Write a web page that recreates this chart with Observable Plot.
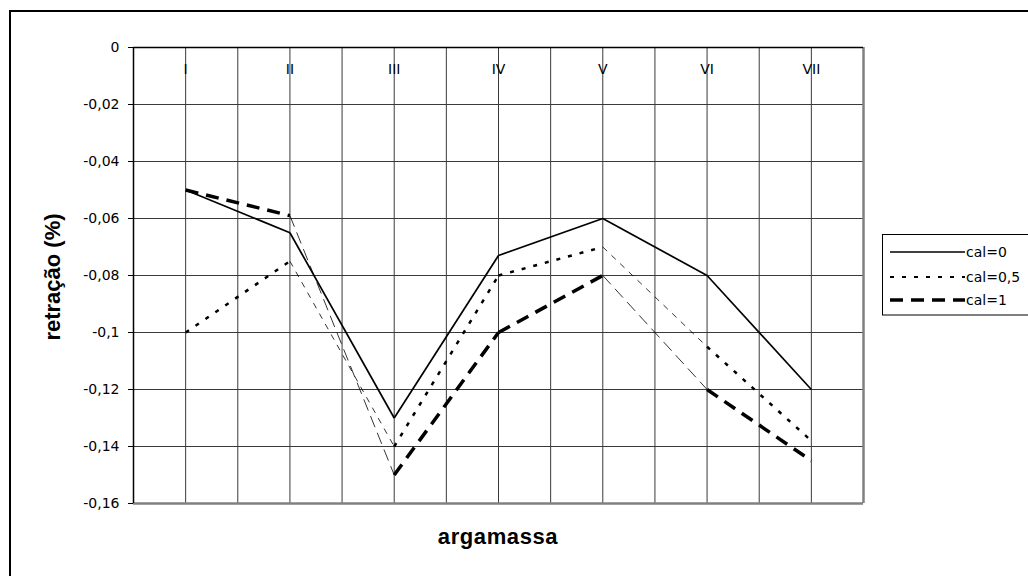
<!DOCTYPE html>
<html><head><meta charset="utf-8">
<script src="https://cdn.jsdelivr.net/npm/d3@7"></script>
<script src="https://cdn.jsdelivr.net/npm/@observablehq/plot@0.6"></script>
<style>body{margin:0;background:#fff}svg{display:block}</style>
</head><body><div id="chart"></div>
<script>
const categories = ["I", "II", "III", "IV", "V", "VI", "VII"];
const seriesNames = ["cal=0", "cal=0,5", "cal=1"];
const cal0  = [-0.05, -0.065, -0.13, -0.073, -0.06, -0.08, -0.12];
const cal05 = [-0.1, -0.075, -0.14, -0.08, -0.07, -0.105, -0.138];
const cal1  = [-0.05, -0.059, -0.15, -0.1, -0.08, -0.12, -0.145];
const yTicks = [0, -0.02, -0.04, -0.06, -0.08, -0.1, -0.12, -0.14, -0.16];
const yTickLabels = ["0", "-0,02", "-0,04", "-0,06", "-0,08", "-0,1", "-0,12", "-0,14", "-0,16"];
const xTitle = "argamassa";
const yTitle = "retração (%)";

const seriesValues = [cal0, cal05, cal1];
const styles = {
  "cal=0":   {thick: {w: 1.7, dash: null}, thin: {w: 1.7, dash: null}},
  "cal=0,5": {thick: {w: 2.5, dash: "4,8"}, thin: {w: 0.8, dash: "6,6"}},
  "cal=1":   {thick: {w: 3.5, dash: "13,8"}, thin: {w: 0.8, dash: "12,6"}}
};
const thinSegments = [1, 4];

const segs = [];
seriesNames.forEach((s, k) => {
  const v = seriesValues[k];
  for (let i = 0; i < v.length - 1; i++) {
    segs.push({series: s, x1: i + 1, y1: v[i], x2: i + 2, y2: v[i + 1], thin: thinSegments.includes(i)});
  }
});

const lineMarks = [];
seriesNames.forEach(s => {
  ["thick", "thin"].forEach(t => {
    const st = styles[s][t];
    lineMarks.push(Plot.link(segs.filter(d => d.series === s && (t === "thin") === d.thin), {
      x1: "x1", y1: "y1", x2: "x2", y2: "y2",
      stroke: "black", strokeWidth: st.w, strokeDasharray: st.dash, strokeLinecap: "butt"
    }));
  });
});

const halfSteps = d3.range(0.5, 7.6, 0.5);
const regFont = "'DejaVu Sans', sans-serif";

const svg = Plot.plot({
  width: 1028, height: 576,
  marginLeft: 133, marginRight: 165, marginTop: 47, marginBottom: 73,
  style: {fontFamily: regFont, fontSize: "14px", color: "black", background: "white"},
  x: {domain: [0.5, 7.5], axis: null},
  y: {domain: [-0.16, 0]},
  marks: [
    Plot.ruleY(yTicks, {stroke: "#3a3a3a", strokeWidth: 1}),
    Plot.ruleX(halfSteps, {stroke: "#3a3a3a", strokeWidth: 1}),
    Plot.ruleX([7.5], {stroke: "#808080", strokeWidth: 2.5}),
    Plot.ruleY([-0.16], {stroke: "#808080", strokeWidth: 2.5}),
    Plot.ruleY([0], {stroke: "black", strokeWidth: 1.5}),
    Plot.ruleX([0.5], {stroke: "black", strokeWidth: 1.5}),
    Plot.axisY(yTicks, {tickSize: 5, tickPadding: 9, tickFormat: d => yTickLabels[yTicks.indexOf(d)], label: null, fontSize: 14, stroke: "black"}),
    Plot.text(categories, {x: (d, i) => i + 1, y: () => 0, dy: 22, text: d => d, fontSize: 14, fill: "black"}),
    ...lineMarks
  ]
});

const root = d3.select(svg);
// outer chart border
root.append("rect").attr("x", 10).attr("y", 11).attr("width", 1100).attr("height", 700)
  .attr("fill", "none").attr("stroke", "black").attr("stroke-width", 2);
// axis titles
root.append("text").attr("x", 498).attr("y", 544).attr("text-anchor", "middle")
  .attr("font-family", "Arial, 'Liberation Sans', sans-serif").attr("font-weight", "bold")
  .attr("font-size", 22).attr("letter-spacing", 0.6).attr("fill", "black").text(xTitle);
root.append("text").attr("transform", "translate(60,277) rotate(-90)").attr("text-anchor", "middle")
  .attr("font-family", "Arial, 'Liberation Sans', sans-serif").attr("font-weight", "bold")
  .attr("font-size", 22).attr("fill", "black").text(yTitle);
// legend
const lg = root.append("g");
lg.append("rect").attr("x", 882.5).attr("y", 234.5).attr("width", 200).attr("height", 80.5)
  .attr("fill", "white").attr("stroke", "black").attr("stroke-width", 1);
const legendY = [252, 277, 300];
seriesNames.forEach((s, k) => {
  const st = styles[s].thick;
  lg.append("line").attr("x1", 890).attr("x2", 965).attr("y1", legendY[k]).attr("y2", legendY[k])
    .attr("stroke", "black").attr("stroke-width", k === 2 ? 3.5 : (k === 1 ? 2 : 1.6))
    .attr("stroke-dasharray", st.dash);
  lg.append("text").attr("x", 966).attr("y", legendY[k]).attr("dy", "0.35em")
    .attr("text-anchor", "start")
    .attr("font-family", regFont).attr("font-size", 14).attr("fill", "black").text(s);
});
document.getElementById("chart").appendChild(svg);
</script>
</body></html>
